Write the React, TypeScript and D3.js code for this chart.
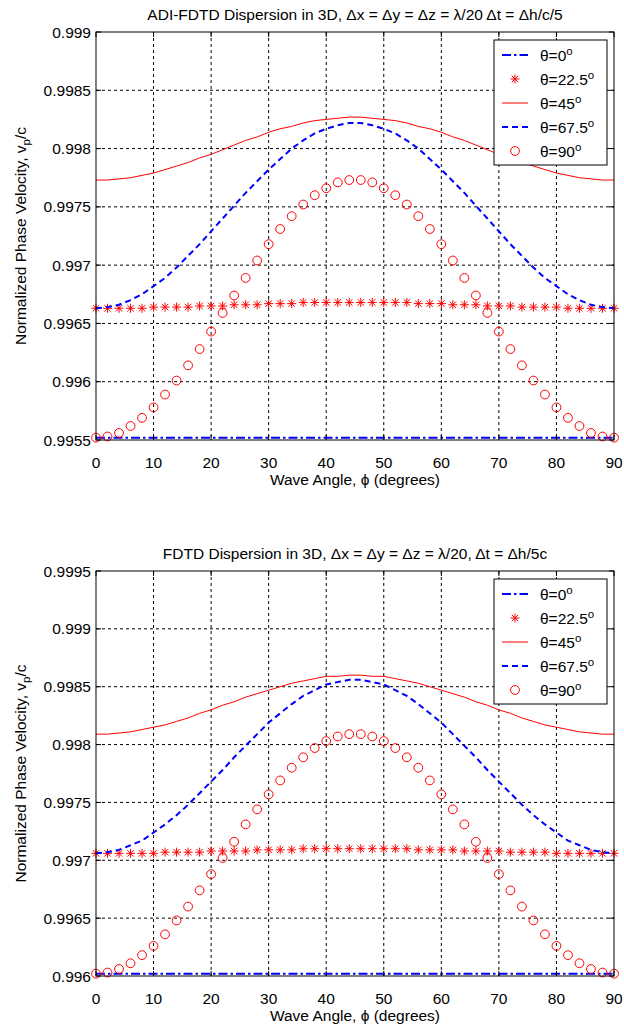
import React from 'react';
import * as d3 from 'd3';

// wave angle phi, degrees
const phi = [0, 2, 4, 6, 8, 10, 12, 14, 16, 18, 20, 22, 24, 26, 28, 30, 32, 34, 36, 38, 40, 42, 44,
  46, 48, 50, 52, 54, 56, 58, 60, 62, 64, 66, 68, 70, 72, 74, 76, 78, 80, 82, 84, 86, 88, 90];

const xTicks = [0, 10, 20, 30, 40, 50, 60, 70, 80, 90];
const topYTicks = [0.9955, 0.996, 0.9965, 0.997, 0.9975, 0.998, 0.9985, 0.999];
const botYTicks = [0.996, 0.9965, 0.997, 0.9975, 0.998, 0.9985, 0.999, 0.9995];

const legendLabels = ['0', '22.5', '45', '67.5', '90'];

// ADI-FDTD
const adiTheta0 = [0.99552, 0.99552, 0.99552, 0.99552, 0.99552, 0.99552, 0.99552, 0.99552, 0.99552, 0.99552,
  0.99552, 0.99552, 0.99552, 0.99552, 0.99552, 0.99552, 0.99552, 0.99552, 0.99552, 0.99552, 0.99552, 0.99552,
  0.99552, 0.99552, 0.99552, 0.99552, 0.99552, 0.99552, 0.99552, 0.99552, 0.99552, 0.99552, 0.99552, 0.99552,
  0.99552, 0.99552, 0.99552, 0.99552, 0.99552, 0.99552, 0.99552, 0.99552, 0.99552, 0.99552, 0.99552, 0.99552];
const adiTheta22 = [0.99663, 0.99663, 0.99663, 0.99663, 0.99663, 0.99664, 0.99664, 0.99664, 0.99664, 0.99665,
  0.99665, 0.99665, 0.99666, 0.99666, 0.99666, 0.99667, 0.99667, 0.99667, 0.99668, 0.99668, 0.99668, 0.99668,
  0.99668, 0.99668, 0.99668, 0.99668, 0.99668, 0.99668, 0.99667, 0.99667, 0.99667, 0.99666, 0.99666, 0.99666,
  0.99665, 0.99665, 0.99665, 0.99664, 0.99664, 0.99664, 0.99664, 0.99663, 0.99663, 0.99663, 0.99663, 0.99663];
const adiTheta45 = [0.99773, 0.99773, 0.99774, 0.99775, 0.99777, 0.99779, 0.99782, 0.99785, 0.99788, 0.99792,
  0.99795, 0.99799, 0.99803, 0.99807, 0.9981, 0.99814, 0.99817, 0.99819, 0.99822, 0.99824, 0.99825, 0.99826,
  0.99827, 0.99827, 0.99826, 0.99825, 0.99824, 0.99822, 0.99819, 0.99817, 0.99814, 0.9981, 0.99807, 0.99803,
  0.99799, 0.99795, 0.99792, 0.99788, 0.99785, 0.99782, 0.99779, 0.99777, 0.99775, 0.99774, 0.99773, 0.99773];
const adiTheta67 = [0.99663, 0.99664, 0.99666, 0.9967, 0.99675, 0.99682, 0.99689, 0.99698, 0.99708, 0.99718,
  0.99729, 0.9974, 0.99751, 0.99762, 0.99772, 0.99782, 0.99791, 0.998, 0.99807, 0.99813, 0.99817, 0.9982,
  0.99822, 0.99822, 0.9982, 0.99817, 0.99813, 0.99807, 0.998, 0.99791, 0.99782, 0.99772, 0.99762, 0.99751,
  0.9974, 0.99729, 0.99718, 0.99708, 0.99698, 0.99689, 0.99682, 0.99675, 0.9967, 0.99666, 0.99664, 0.99663];
const adiTheta90 = [0.99552, 0.99553, 0.99556, 0.99562, 0.99569, 0.99578, 0.99589, 0.99601, 0.99614, 0.99628,
  0.99643, 0.99659, 0.99674, 0.99689, 0.99704, 0.99718, 0.99731, 0.99742, 0.99752, 0.9976, 0.99766, 0.99771,
  0.99773, 0.99773, 0.99771, 0.99766, 0.9976, 0.99752, 0.99742, 0.99731, 0.99718, 0.99704, 0.99689, 0.99674,
  0.99659, 0.99643, 0.99628, 0.99614, 0.99601, 0.99589, 0.99578, 0.99569, 0.99562, 0.99556, 0.99553, 0.99552];

// FDTD
const fdtdTheta0 = [0.99602, 0.99602, 0.99602, 0.99602, 0.99602, 0.99602, 0.99602, 0.99602, 0.99602, 0.99602,
  0.99602, 0.99602, 0.99602, 0.99602, 0.99602, 0.99602, 0.99602, 0.99602, 0.99602, 0.99602, 0.99602, 0.99602,
  0.99602, 0.99602, 0.99602, 0.99602, 0.99602, 0.99602, 0.99602, 0.99602, 0.99602, 0.99602, 0.99602, 0.99602,
  0.99602, 0.99602, 0.99602, 0.99602, 0.99602, 0.99602, 0.99602, 0.99602, 0.99602, 0.99602, 0.99602, 0.99602];
const fdtdTheta22 = [0.99706, 0.99706, 0.99706, 0.99706, 0.99706, 0.99706, 0.99707, 0.99707, 0.99707, 0.99707,
  0.99708, 0.99708, 0.99708, 0.99708, 0.99709, 0.99709, 0.99709, 0.99709, 0.9971, 0.9971, 0.9971, 0.9971,
  0.9971, 0.9971, 0.9971, 0.9971, 0.9971, 0.9971, 0.99709, 0.99709, 0.99709, 0.99709, 0.99708, 0.99708,
  0.99708, 0.99708, 0.99707, 0.99707, 0.99707, 0.99707, 0.99706, 0.99706, 0.99706, 0.99706, 0.99706, 0.99706];
const fdtdTheta45 = [0.99809, 0.99809, 0.9981, 0.99811, 0.99813, 0.99815, 0.99817, 0.9982, 0.99823, 0.99827,
  0.9983, 0.99834, 0.99837, 0.99841, 0.99844, 0.99847, 0.9985, 0.99853, 0.99855, 0.99857, 0.99859, 0.99859,
  0.9986, 0.9986, 0.99859, 0.99859, 0.99857, 0.99855, 0.99853, 0.9985, 0.99847, 0.99844, 0.99841, 0.99837,
  0.99834, 0.9983, 0.99827, 0.99823, 0.9982, 0.99817, 0.99815, 0.99813, 0.99811, 0.9981, 0.99809, 0.99809];
const fdtdTheta67 = [0.99706, 0.99707, 0.99709, 0.99713, 0.99717, 0.99724, 0.99731, 0.99739, 0.99748, 0.99758,
  0.99768, 0.99778, 0.99789, 0.99799, 0.99809, 0.99819, 0.99827, 0.99835, 0.99842, 0.99847, 0.99852, 0.99854,
  0.99856, 0.99856, 0.99854, 0.99852, 0.99847, 0.99842, 0.99835, 0.99827, 0.99819, 0.99809, 0.99799, 0.99789,
  0.99778, 0.99768, 0.99758, 0.99748, 0.99739, 0.99731, 0.99724, 0.99717, 0.99713, 0.99709, 0.99707, 0.99706];
const fdtdTheta90 = [0.99602, 0.99603, 0.99606, 0.99611, 0.99618, 0.99626, 0.99636, 0.99648, 0.9966, 0.99674,
  0.99688, 0.99702, 0.99716, 0.99731, 0.99744, 0.99757, 0.99769, 0.9978, 0.99789, 0.99797, 0.99803, 0.99807,
  0.99809, 0.99809, 0.99807, 0.99803, 0.99797, 0.99789, 0.9978, 0.99769, 0.99757, 0.99744, 0.99731, 0.99716,
  0.99702, 0.99688, 0.99674, 0.9966, 0.99648, 0.99636, 0.99626, 0.99618, 0.99611, 0.99606, 0.99603, 0.99602];

const FONT = '"Liberation Sans", Arial, sans-serif';
const FS = 15.5;
const BLUE = '#0000ff';
const RED = '#ff0000';

type Style = { kind: 'line' | 'star' | 'circle'; color: string; width?: number; dash?: string };
const styles: Style[] = [
  { kind: 'line', color: BLUE, width: 2, dash: '9,3,2.5,3' },
  { kind: 'star', color: RED },
  { kind: 'line', color: RED, width: 1 },
  { kind: 'line', color: BLUE, width: 2, dash: '6,4' },
  { kind: 'circle', color: RED },
];

function Star({ x, y, c }: { x: number; y: number; c: string }) {
  const r = 4.5;
  const d = r * 0.72;
  return (
    <g stroke={c} strokeWidth={1}>
      <line x1={x - r} y1={y} x2={x + r} y2={y} />
      <line x1={x} y1={y - r} x2={x} y2={y + r} />
      <line x1={x - d} y1={y - d} x2={x + d} y2={y + d} />
      <line x1={x - d} y1={y + d} x2={x + d} y2={y - d} />
    </g>
  );
}

function Panel({ top, bottom, domain, yTicks, title, series, legendTop }: {
  top: number; bottom: number; domain: [number, number]; yTicks: number[]; title: string;
  series: number[][]; legendTop: number;
}) {
  const left = 96;
  const right = 614;
  const x = d3.scaleLinear().domain([0, 90]).range([left, right]);
  const y = d3.scaleLinear().domain(domain).range([bottom, top]);
  const line = d3.line<number>().x((_, i) => x(phi[i])).y((v) => y(v));
  const tl = 5;

  const legendLeft = 494;
  const legendRight = 607;
  const rowH = 24;
  const legendH = rowH * 5 + 5;

  return (
    <g fontFamily={FONT} fontSize={FS} fill="#000">
      <text x={(left + right) / 2} y={top - 12} textAnchor="middle">{title}</text>
      {/* grid */}
      <g stroke="#000" strokeWidth={1} strokeDasharray="3,3">
        {xTicks.slice(1, -1).map((t) => (
          <line key={'gx' + t} x1={x(t)} x2={x(t)} y1={top} y2={bottom} />
        ))}
        {yTicks.slice(1, -1).map((t) => (
          <line key={'gy' + t} x1={left} x2={right} y1={y(t)} y2={y(t)} />
        ))}
      </g>
      {/* series */}
      {series.map((vals, si) => {
        const s = styles[si];
        if (s.kind === 'line') {
          return (
            <path key={si} d={line(vals) || ''} fill="none" stroke={s.color}
              strokeWidth={s.width} strokeDasharray={s.dash} />
          );
        }
        if (s.kind === 'star') {
          return <g key={si}>{vals.map((v, i) => <Star key={i} x={x(phi[i])} y={y(v)} c={s.color} />)}</g>;
        }
        return (
          <g key={si} fill="none" stroke={s.color} strokeWidth={1}>
            {vals.map((v, i) => <circle key={i} cx={x(phi[i])} cy={y(v)} r={4.4} />)}
          </g>
        );
      })}
      {/* box & ticks */}
      <rect x={left} y={top} width={right - left} height={bottom - top} fill="none" stroke="#000" strokeWidth={1} />
      <g stroke="#000" strokeWidth={1}>
        {xTicks.map((t) => (
          <g key={'tx' + t}>
            <line x1={x(t)} x2={x(t)} y1={bottom} y2={bottom - tl} />
            <line x1={x(t)} x2={x(t)} y1={top} y2={top + tl} />
          </g>
        ))}
        {yTicks.map((t) => (
          <g key={'ty' + t}>
            <line x1={left} x2={left + tl} y1={y(t)} y2={y(t)} />
            <line x1={right} x2={right - tl} y1={y(t)} y2={y(t)} />
          </g>
        ))}
      </g>
      {xTicks.map((t) => (
        <text key={'lx' + t} x={x(t)} y={bottom + 28} textAnchor="middle">{t}</text>
      ))}
      {yTicks.map((t) => (
        <text key={'ly' + t} x={left - 5} y={y(t) + 5.5} textAnchor="end">{String(t)}</text>
      ))}
      <text x={(left + right) / 2} y={bottom + 45} textAnchor="middle">Wave Angle, {'\u03d5'} (degrees)</text>
      <text transform={`translate(26,${(top + bottom) / 2}) rotate(-90)`} textAnchor="middle">
        Normalized Phase Velocity, v<tspan dy={4} fontSize={11.5}>p</tspan><tspan dy={-4}>/c</tspan>
      </text>
      {/* legend */}
      <rect x={legendLeft} y={legendTop} width={legendRight - legendLeft} height={legendH}
        fill="#fff" stroke="#000" strokeWidth={1} />
      {legendLabels.map((lab, i) => {
        const s = styles[i];
        const cy = legendTop + 15 + i * rowH;
        let mark;
        if (s.kind === 'line') {
          mark = <line x1={502} x2={528} y1={cy} y2={cy} stroke={s.color} strokeWidth={s.width} strokeDasharray={s.dash} />;
        } else if (s.kind === 'star') {
          mark = <Star x={515} y={cy} c={s.color} />;
        } else {
          mark = <circle cx={515} cy={cy} r={4.4} fill="none" stroke={s.color} strokeWidth={1} />;
        }
        return (
          <g key={'lg' + i}>
            {mark}
            <text x={540} y={cy + 6}>
              {'\u03b8=' + lab}<tspan dy={-6} fontSize={11.5}>o</tspan>
            </text>
          </g>
        );
      })}
    </g>
  );
}

export default function App() {
  return (
    <svg width={624} height={1028} style={{ position: 'absolute', left: 0, top: 0, background: '#fff' }}>
      <Panel top={32} bottom={440} domain={[0.9955, 0.999]} yTicks={topYTicks}
        title={'ADI-FDTD Dispersion in 3D, \u0394x = \u0394y = \u0394z = \u03bb/20 \u0394t = \u0394h/c/5'}
        series={[adiTheta0, adiTheta22, adiTheta45, adiTheta67, adiTheta90]} legendTop={40} />
      <Panel top={571} bottom={976} domain={[0.996, 0.9995]} yTicks={botYTicks}
        title={'FDTD Dispersion in 3D, \u0394x = \u0394y = \u0394z = \u03bb/20, \u0394t = \u0394h/5c'}
        series={[fdtdTheta0, fdtdTheta22, fdtdTheta45, fdtdTheta67, fdtdTheta90]} legendTop={579} />
    </svg>
  );
}
